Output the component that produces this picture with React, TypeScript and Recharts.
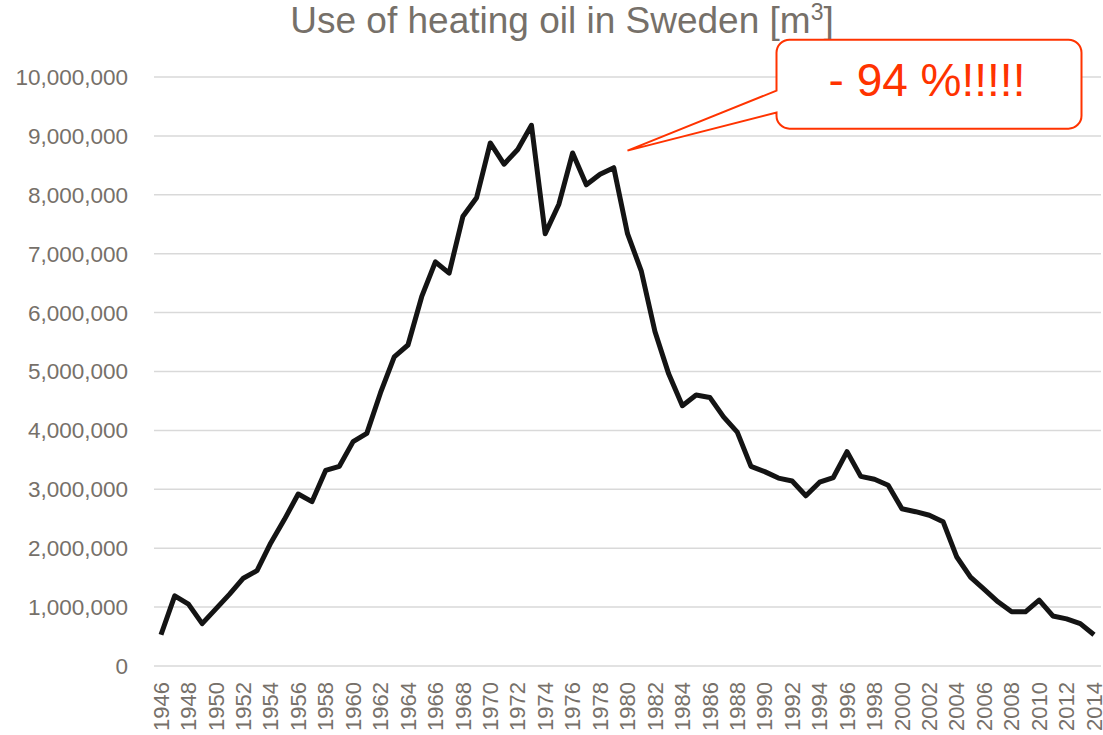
import React from 'react';
import { LineChart, Line, XAxis, YAxis, CartesianGrid, ReferenceDot } from 'recharts';

const years: number[] = [
  1946, 1947, 1948, 1949, 1950, 1951, 1952, 1953, 1954, 1955, 1956, 1957, 1958, 1959,
  1960, 1961, 1962, 1963, 1964, 1965, 1966, 1967, 1968, 1969, 1970, 1971, 1972, 1973,
  1974, 1975, 1976, 1977, 1978, 1979, 1980, 1981, 1982, 1983, 1984, 1985, 1986, 1987,
  1988, 1989, 1990, 1991, 1992, 1993, 1994, 1995, 1996, 1997, 1998, 1999, 2000, 2001,
  2002, 2003, 2004, 2005, 2006, 2007, 2008, 2009, 2010, 2011, 2012, 2013, 2014,
];

const oilUse: number[] = [
  530000, 1190000, 1050000, 720000, 970000, 1220000, 1490000, 1620000, 2090000, 2490000,
  2920000, 2790000, 3320000, 3390000, 3810000, 3950000, 4640000, 5250000, 5450000, 6270000,
  6860000, 6670000, 7630000, 7950000, 8880000, 8520000, 8770000, 9180000, 7340000, 7840000,
  8710000, 8170000, 8350000, 8460000, 7340000, 6710000, 5680000, 4960000, 4420000, 4600000,
  4560000, 4230000, 3970000, 3390000, 3300000, 3190000, 3140000, 2890000, 3120000, 3200000,
  3640000, 3220000, 3170000, 3070000, 2670000, 2620000, 2560000, 2450000, 1850000, 1510000,
  1300000, 1090000, 920000, 920000, 1120000, 850000, 800000, 720000, 530000,
];

const yTicks: number[] = [0, 1000000, 2000000, 3000000, 4000000, 5000000, 6000000, 7000000, 8000000, 9000000, 10000000];

const titleText = 'Use of heating oil in Sweden [m';
const titleSup = '3';
const calloutText = '- 94 %!!!!!';
const calloutYear = 1980;
const calloutValue = 8750000;

const data = years.map((y, i) => ({ year: y, value: oilUse[i] }));

const FONT = '"Liberation Sans", Arial, sans-serif';
const GRAY = '#767069';
const RED = '#FF3300';

const XTick = (props: any) => {
  const { x, y, payload } = props;
  const ty = y + 16;
  return (
    <text
      x={x}
      y={ty}
      transform={`rotate(-90, ${x}, ${ty})`}
      textAnchor="end"
      dy="0.35em"
      fill={GRAY}
      fontSize={22}
      fontFamily={FONT}
    >
      {payload.value}
    </text>
  );
};

const Callout = (props: any) => {
  const { cx, cy } = props;
  if (cx == null || cy == null) return null;
  const left = cx + 149;
  const right = cx + 454;
  const top = cy - 111;
  const bottom = cy - 22;
  const r = 13;
  const w1 = cy - 60;
  const w2 = cy - 38;
  const d = [
    `M ${left + r} ${top}`,
    `H ${right - r}`,
    `A ${r} ${r} 0 0 1 ${right} ${top + r}`,
    `V ${bottom - r}`,
    `A ${r} ${r} 0 0 1 ${right - r} ${bottom}`,
    `H ${left + r}`,
    `A ${r} ${r} 0 0 1 ${left} ${bottom - r}`,
    `V ${w2}`,
    `L ${cx} ${cy}`,
    `L ${left} ${w1}`,
    `V ${top + r}`,
    `A ${r} ${r} 0 0 1 ${left + r} ${top}`,
    'Z',
  ].join(' ');
  return (
    <g>
      <path d={d} fill="#ffffff" stroke={RED} strokeWidth={2} strokeLinejoin="miter" />
      <text
        x={(left + right) / 2 - 2}
        y={cy - 55}
        textAnchor="middle"
        fill={RED}
        fontSize={46}
        fontFamily={FONT}
      >
        {calloutText}
      </text>
    </g>
  );
};

export default function App() {
  return (
    <div style={{ position: 'absolute', left: 0, top: 0, width: 1103, height: 735, background: '#fff' }}>
      <LineChart
        width={1103}
        height={735}
        data={data}
        margin={{ top: 77, right: 2, left: 0, bottom: 0 }}
      >
        <CartesianGrid vertical={false} stroke="#d9d9d9" strokeWidth={1.5} />
        <XAxis
          dataKey="year"
          interval={1}
          height={69}
          axisLine={false}
          tickLine={false}
          tickSize={0}
          tickMargin={0}
          padding={{ left: 7, right: 7 }}
          tick={<XTick />}
        />
        <YAxis
          width={154}
          domain={[0, 10000000]}
          ticks={yTicks}
          interval={0}
          axisLine={false}
          tickLine={false}
          tickMargin={20}
          tickFormatter={(v: number) => v.toLocaleString('en-US')}
          tick={{ fill: GRAY, fontSize: 22.5, fontFamily: FONT }}
        />
        <Line
          type="linear"
          dataKey="value"
          stroke="#141414"
          strokeWidth={5}
          dot={false}
          activeDot={false}
          isAnimationActive={false}
          strokeLinejoin="round"
        />
        <ReferenceDot
          x={calloutYear}
          y={calloutValue}
          ifOverflow="visible"
          shape={(p: any) => <Callout {...p} />}
        />
        <text
          x={562}
          y={33}
          textAnchor="middle"
          fill={GRAY}
          fontSize={37}
          fontFamily={FONT}
        >
          {titleText}
          <tspan fontSize={23} dy={-13}>{titleSup}</tspan>
          <tspan dy={13}>]</tspan>
        </text>
      </LineChart>
    </div>
  );
}
